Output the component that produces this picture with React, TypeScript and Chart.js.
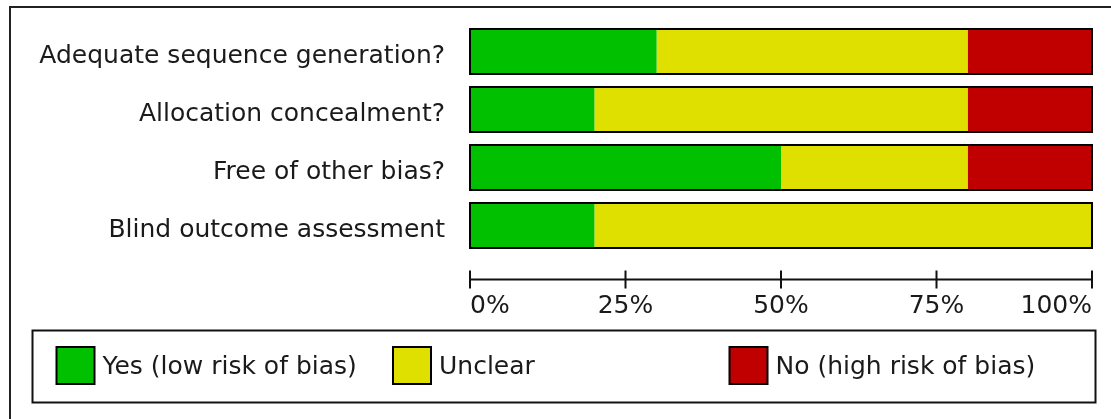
import React, { useEffect, useRef } from "react";
import { Chart, registerables } from "chart.js";

Chart.register(...registerables);

const categories = [
  "Adequate sequence generation?",
  "Allocation concealment?",
  "Free of other bias?",
  "Blind outcome assessment",
];
const seriesLabels = ["Yes (low risk of bias)", "Unclear", "No (high risk of bias)"];
const yesValues = [30, 20, 50, 20];
const unclearValues = [50, 60, 30, 80];
const noValues = [20, 20, 20, 0];
const seriesColors = ["#00C000", "#E0E000", "#C00000"];
const tickValues = [0, 25, 50, 75, 100];
const tickLabels = ["0%", "25%", "50%", "75%", "100%"];

const FONT = "'DejaVu Sans', sans-serif";
const INK = "#1a1a1a";

const zeroPadding = (scale: any) => {
  scale.paddingLeft = 0;
  scale.paddingRight = 0;
  scale.paddingTop = 0;
  scale.paddingBottom = 0;
};

const decorPlugin = {
  id: "decor",
  afterDraw(chart: any) {
    const ctx = chart.ctx as CanvasRenderingContext2D;
    const area = chart.chartArea;
    const xs = chart.scales.x;
    ctx.save();

    // outer frame
    ctx.strokeStyle = "#222";
    ctx.lineWidth = 2;
    ctx.strokeRect(10, 7, chart.width + 20, chart.height + 20);

    // outlines around each full stacked bar
    const meta = chart.getDatasetMeta(0);
    ctx.strokeStyle = "#000";
    ctx.lineWidth = 2;
    categories.forEach((_, i) => {
      const el = meta.data[i];
      if (!el) return;
      const { y, height } = el.getProps(["y", "height"], true);
      const total = chart.data.datasets.reduce((s: number, d: any) => s + (d.data[i] || 0), 0);
      const x0 = xs.getPixelForValue(0);
      const x1 = xs.getPixelForValue(total);
      ctx.strokeRect(x0, y - height / 2, x1 - x0, height);
    });

    // x axis line with ticks crossing it
    const axisY = Math.round(area.bottom + 24.5) + 0.5;
    ctx.strokeStyle = "#111";
    ctx.lineWidth = 2;
    ctx.beginPath();
    ctx.moveTo(xs.getPixelForValue(tickValues[0]), axisY);
    ctx.lineTo(xs.getPixelForValue(tickValues[tickValues.length - 1]), axisY);
    tickValues.forEach((v) => {
      const px = xs.getPixelForValue(v);
      ctx.moveTo(px, axisY - 9);
      ctx.lineTo(px, axisY + 9);
    });
    ctx.stroke();

    // legend box
    const boxL = 32.5, boxT = 330.5, boxR = 1095.5, boxB = 402.5;
    ctx.strokeStyle = "#111";
    ctx.lineWidth = 2;
    ctx.strokeRect(boxL, boxT, boxR - boxL, boxB - boxT);
    ctx.font = `25px ${FONT}`;
    ctx.textBaseline = "middle";
    ctx.textAlign = "left";
    chart.data.datasets.forEach((ds: any, i: number) => {
      const sx = boxL + 24 + i * 336.5;
      const sy = 347;
      ctx.fillStyle = ds.backgroundColor;
      ctx.fillRect(sx, sy, 38, 37);
      ctx.strokeStyle = "#000";
      ctx.lineWidth = 2;
      ctx.strokeRect(sx, sy, 38, 37);
      ctx.fillStyle = INK;
      ctx.fillText(ds.label, sx + 46, sy + 20);
    });

    ctx.restore();
  },
};

export default function App() {
  const ref = useRef<HTMLCanvasElement | null>(null);

  useEffect(() => {
    if (!ref.current) return;
    const datasets = [yesValues, unclearValues, noValues].map((vals, i) => ({
      label: seriesLabels[i],
      data: vals,
      backgroundColor: seriesColors[i],
      borderWidth: 0,
      barPercentage: 0.776,
      categoryPercentage: 1,
    }));
    const chart = new Chart(ref.current, {
      type: "bar",
      data: { labels: categories, datasets },
      options: {
        indexAxis: "y",
        animation: false,
        responsive: false,
        layout: { padding: { top: 22.5, right: 19, left: 0, bottom: 0 } },
        plugins: { legend: { display: false }, tooltip: { enabled: false } },
        scales: {
          x: {
            type: "linear",
            stacked: true,
            min: 0,
            max: 100,
            grid: { display: false, drawTicks: false },
            border: { display: false },
            afterBuildTicks: (scale: any) => {
              scale.ticks = tickValues.map((v) => ({ value: v }));
            },
            afterFit: (scale: any) => {
              scale.height = 164.5;
              zeroPadding(scale);
            },
            ticks: {
              align: "inner",
              padding: 37,
              maxRotation: 0,
              autoSkip: false,
              color: INK,
              font: { family: FONT, size: 25 },
              callback: (v: any) => tickLabels[tickValues.indexOf(Number(v))] ?? "",
            },
          },
          y: {
            type: "category",
            stacked: true,
            offset: true,
            grid: { display: false, drawTicks: false },
            border: { display: false },
            afterFit: (scale: any) => {
              scale.width = 470;
              zeroPadding(scale);
            },
            ticks: {
              padding: 25,
              labelOffset: 5,
              color: INK,
              font: { family: FONT, size: 25 },
            },
          },
        },
      },
      plugins: [decorPlugin],
    });
    return () => chart.destroy();
  }, []);

  return (
    <div style={{ position: "fixed", left: 0, top: 0, width: 1111, height: 419, background: "#fff" }}>
      <canvas ref={ref} width={1111} height={419} style={{ width: 1111, height: 419, display: "block" }} />
    </div>
  );
}
